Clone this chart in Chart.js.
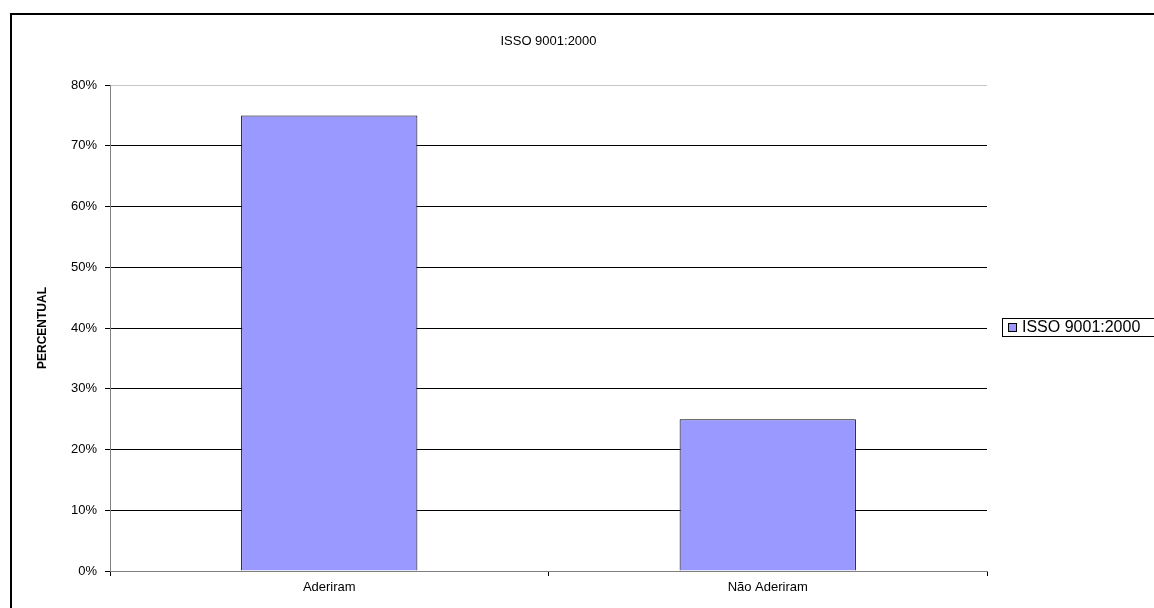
<!DOCTYPE html>
<html>
<head>
<meta charset="utf-8">
<script src="https://cdn.jsdelivr.net/npm/chart.js@4.4.0/dist/chart.umd.min.js"></script>
<style>
  html, body { margin: 0; padding: 0; background: #fff; }
  #wrap { width: 1154px; height: 608px; position: relative; }
</style>
</head>
<body>
<div id="wrap"><canvas id="isoChart"></canvas></div>
<script>
const categories = ['Aderiram', 'Não Aderiram'];
const seriesName = 'ISSO 9001:2000';
const percentValues = [0.75, 0.25];
const yTicks = [0, 0.1, 0.2, 0.3, 0.4, 0.5, 0.6, 0.7, 0.8];

const FONT = 'Liberation Sans, Arial, sans-serif';

// frame, title and legend drawn like the original spreadsheet chart
const decor = {
    id: 'decor',
    afterDraw(chart) {
        const ctx = chart.ctx;
        const area = chart.chartArea;
        ctx.save();
        ctx.strokeStyle = '#000';
        ctx.lineWidth = 2;
        ctx.beginPath();
        ctx.moveTo(11, 610);
        ctx.lineTo(11, 14);
        ctx.lineTo(1160, 14);
        ctx.stroke();

        ctx.fillStyle = '#000';
        ctx.font = '13px ' + FONT;
        ctx.textAlign = 'center';
        ctx.textBaseline = 'middle';
        ctx.fillText(seriesName, (area.left + area.right) / 2, 41);

        // legend
        ctx.lineWidth = 1;
        ctx.strokeStyle = '#000';
        ctx.strokeRect(1002.5, 318.5, 160, 18);
        ctx.fillStyle = '#9999FF';
        ctx.fillRect(1008, 323, 9, 9);
        ctx.strokeRect(1008.5, 323.5, 8, 8);
        ctx.fillStyle = '#000';
        ctx.textAlign = 'left';
        ctx.font = '16px ' + FONT;
        ctx.fillText(seriesName, 1022, 328);
        ctx.restore();
    }
};

document.addEventListener('DOMContentLoaded', function () {
    const ctx = document.getElementById('isoChart').getContext('2d');
    new Chart(ctx, {
        type: 'bar',
        data: {
            labels: categories,
            datasets: [{
                label: seriesName,
                data: percentValues,
                backgroundColor: '#9999FF',
                borderColor: '#000',
                borderWidth: 1,
                barPercentage: 0.402,
                categoryPercentage: 1
            }]
        },
        options: {
            responsive: true,
            maintainAspectRatio: false,
            animation: false,
            layout: { padding: { left: 0, top: 85, right: 167, bottom: 0 } },
            plugins: {
                legend: { display: false },
                tooltip: { enabled: false }
            },
            scales: {
                x: {
                    afterFit: s => { s.height = 37; },
                    grid: {
                        offset: true,
                        drawOnChartArea: false,
                        tickLength: 5,
                        color: '#000'
                    },
                    border: { color: '#808080' },
                    ticks: { color: '#000', font: { family: FONT, size: 13 }, padding: 4 }
                },
                y: {
                    min: 0,
                    max: 0.8,
                    afterFit: s => { s.width = 110; },
                    afterBuildTicks: s => { s.ticks = yTicks.map(v => ({ value: v })); },
                    grid: {
                        color: c => c.tick && c.tick.value >= 0.8 ? '#c8c8c8' : '#000',
                        tickColor: '#000',
                        tickLength: 5
                    },
                    border: { color: '#808080' },
                    title: {
                        display: true,
                        text: 'PERCENTUAL',
                        color: '#000',
                        font: { family: FONT, size: 12, weight: 'bold' },
                        padding: { top: 35, bottom: 0 }
                    },
                    ticks: {
                        color: '#000',
                        font: { family: FONT, size: 13 },
                        padding: 8,
                        callback: v => Math.round(v * 100) + '%'
                    }
                }
            }
        },
        plugins: [decor]
    });
});
</script>
</body>
</html>
